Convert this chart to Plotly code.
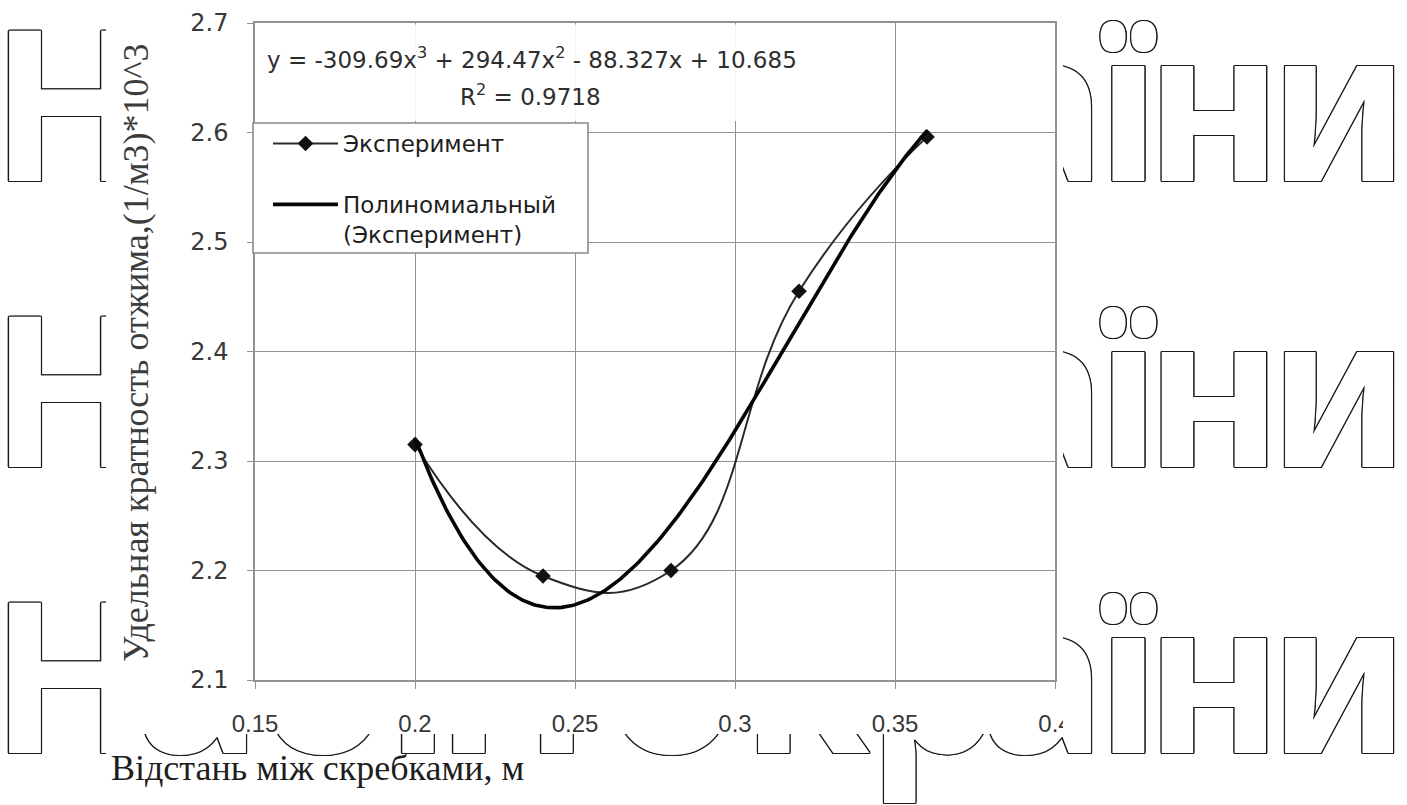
import numpy as np
import plotly.graph_objects as go

# ---- data -------------------------------------------------------------
x_exp = [0.20, 0.24, 0.28, 0.32, 0.36]          # distance between scrapers, m
y_exp = [2.315, 2.195, 2.200, 2.455, 2.596]     # specific squeeze ratio
trend_coef = [-309.69, 294.47, -88.327, 10.685]  # cubic trendline, highest power first
r_squared = 0.9718

x_ticks = [0.15, 0.20, 0.25, 0.30, 0.35, 0.40]
x_tick_labels = ["0.15", "0.2", "0.25", "0.3", "0.35", "0.4"]
y_ticks = [2.1, 2.2, 2.3, 2.4, 2.5, 2.6, 2.7]
y_tick_labels = ["2.1", "2.2", "2.3", "2.4", "2.5", "2.6", "2.7"]

series_names = ["Эксперимент", "Полиномиальный<br>(Эксперимент)"]
x_title = "Відстань між скребками, м"
y_title = "Удельная кратность отжима,(1/м3)*10^3"

# ---- page geometry (pixels) -----------------------------------------------
W, H = 1407, 805
PLOT_L, PLOT_R, PLOT_T, PLOT_B = 255, 1055, 23, 680


def px(x):
    return x / W


def py(y):
    return 1 - y / H


# trendline evaluated from its printed coefficients
x_fit = np.linspace(min(x_exp), max(x_exp), 200)
y_fit = np.polyval(trend_coef, x_fit)

c3, c2, c1, c0 = trend_coef
eq_line = (f"y = {c3:g}x<sup>3</sup> + {c2:g}x<sup>2</sup> - {abs(c1):g}x + {c0:g}")
r2_line = f"R<sup>2</sup> = {r_squared:g}"

fig = go.Figure()

# ---- background watermark (outlined letters), clipped to the page margins --
WM_SIZE = 210
edge = "#1a1a1a"
wm_font = dict(family="Noto Sans", size=WM_SIZE, color="white", weight="bold",
               shadow=(f"1.3px 0 0 {edge}, -1.3px 0 0 {edge}, 0 1.3px 0 {edge}, "
                       f"0 -1.3px 0 {edge}, 1px 1px 0 {edge}, -1px -1px 0 {edge}, "
                       f"1px -1px 0 {edge}, -1px 1px 0 {edge}"))
wm_baselines = [180, 466, 752]
left_letters = [("Н", 71)]
mid_letters = [("а", 198), ("б", 322), ("і", 418), ("і", 469), ("і", 557),
               ("о", 672), ("к", 806), ("р", 934)]
right_letters = [("а", 1043), ("ї", 1127), ("н", 1214), ("и", 1339)]

# (left, right, top, bottom) in pixels, letters, rows
wm_regions = [
    ((0, 106, 0, H), left_letters, wm_baselines),
    ((1063, W, 0, H), right_letters, wm_baselines),
    ((106, 1063, 734, H), mid_letters + right_letters[:1], wm_baselines[-1:]),
]

for i, ((l, r, t, b), letters, rows) in enumerate(wm_regions, start=2):
    wx, wy, wt = [], [], []
    for base in rows:
        for ch, cx in letters:
            wx.append(cx)
            wy.append(base - 0.245 * WM_SIZE)
            wt.append(ch)
    fig.add_trace(go.Scatter(
        x=wx, y=wy, text=wt, mode="text", textposition="middle center",
        textfont=wm_font, cliponaxis=True, hoverinfo="skip", showlegend=False,
        xaxis=f"x{i}", yaxis=f"y{i}"))
    fig.layout[f"xaxis{i}"] = dict(domain=[px(l), px(r)], range=[l, r],
                                   visible=False, fixedrange=True,
                                   anchor=f"y{i}")
    fig.layout[f"yaxis{i}"] = dict(domain=[py(b), py(t)], range=[b, t],
                                   visible=False, fixedrange=True,
                                   anchor=f"x{i}")

# ---- chart traces --------------------------------------------------------
fig.add_trace(go.Scatter(
    x=x_exp, y=y_exp, name=series_names[0], mode="lines+markers",
    line=dict(color="#2a2a2a", width=2, shape="spline", smoothing=1.3),
    marker=dict(symbol="diamond", size=12, color="#111111"),
    legendgroup="exp", xaxis="x", yaxis="y"))
fig.add_trace(go.Scatter(
    x=x_fit, y=y_fit, name=series_names[1], mode="lines",
    line=dict(color="#050505", width=3.6),
    legendgroup="fit", xaxis="x", yaxis="y"))

axis_grey = "#929292"
fig.update_layout(
    width=W, height=H,
    margin=dict(l=0, r=0, t=0, b=0, autoexpand=False),
    paper_bgcolor="white", plot_bgcolor="white",
    xaxis=dict(domain=[px(PLOT_L), px(PLOT_R)], range=[0.15, 0.40],
               tickvals=x_ticks, ticktext=x_tick_labels,
               showgrid=True, gridcolor=axis_grey, gridwidth=1.2,
               showline=True, mirror=True, linecolor=axis_grey, linewidth=1.5,
               ticks="outside", ticklen=7, tickcolor=axis_grey,
               ticklabelstandoff=14, zeroline=False, automargin=False,
               tickfont=dict(family="Liberation Sans", size=24, color="#383838"),
               anchor="y"),
    yaxis=dict(domain=[py(PLOT_B), py(PLOT_T)], range=[2.1, 2.7],
               tickvals=y_ticks, ticktext=y_tick_labels,
               showgrid=True, gridcolor=axis_grey, gridwidth=1.2,
               showline=True, mirror=True, linecolor=axis_grey, linewidth=1.5,
               ticks="outside", ticklen=6, tickcolor=axis_grey,
               ticklabelstandoff=14, zeroline=False, automargin=False,
               tickfont=dict(family="DejaVu Sans", size=24, color="#383838"),
               anchor="x"),
    legend=dict(x=px(268), y=py(122), xanchor="left", yanchor="top",
                bgcolor="rgba(0,0,0,0)", borderwidth=0,
                font=dict(family="DejaVu Sans", size=23, color="#1e1e1e"),
                itemwidth=65, traceorder="grouped", tracegroupgap=28,
                valign="top"),
    showlegend=True,
)

# white box behind the trendline equation and the framed legend box
fig.add_shape(type="rect", xref="paper", yref="paper", layer="above",
              x0=px(PLOT_L + 1.5), x1=px(812), y0=py(121), y1=py(PLOT_T + 1.5),
              fillcolor="rgba(255,255,255,0.92)", line=dict(width=0))
fig.add_shape(type="rect", xref="paper", yref="paper", layer="above",
              x0=px(253), x1=px(588), y0=py(253), y1=py(123),
              fillcolor="white", line=dict(color="#8a8a8a", width=1.6))

eq_font = dict(family="DejaVu Sans", size=23, color="#2e2e2e")
fig.add_annotation(text=eq_line, x=px(532), y=py(58), xref="paper", yref="paper",
                   xanchor="center", yanchor="middle", showarrow=False, font=eq_font)
fig.add_annotation(text=r2_line, x=px(530), y=py(95), xref="paper", yref="paper",
                   xanchor="center", yanchor="middle", showarrow=False, font=eq_font)

# axis titles
fig.add_annotation(text=y_title, x=px(136), y=py(353), xref="paper", yref="paper",
                   textangle=-90, xanchor="center", yanchor="middle",
                   showarrow=False,
                   font=dict(family="Liberation Serif", size=36, color="#3c3c3c"))
fig.add_annotation(text=x_title, x=px(317), y=py(768), xref="paper", yref="paper",
                   xanchor="center", yanchor="middle", showarrow=False,
                   font=dict(family="Liberation Serif", size=36, color="#1e1e1e"))

fig.write_html("out.html")
